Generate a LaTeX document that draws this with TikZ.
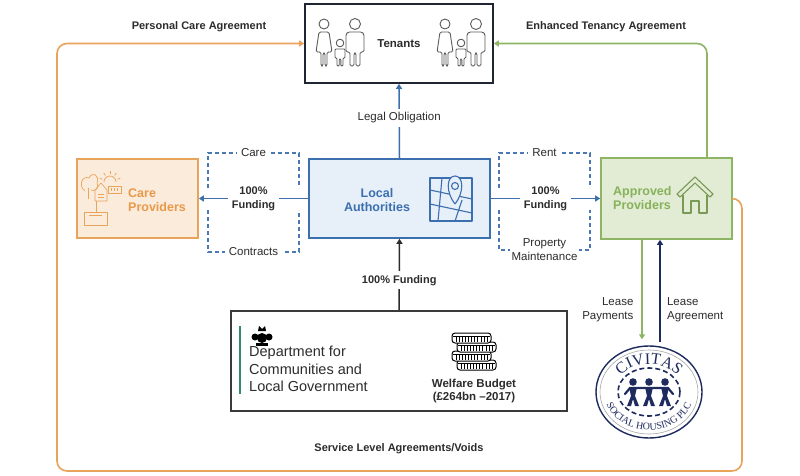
\documentclass[tikz,border=0pt]{standalone}
\usepackage{fontspec}
\setmainfont{Liberation Sans}
\newfontfamily\civfont{Liberation Serif}
\usetikzlibrary{arrows.meta,decorations.text,shapes.geometric}

\definecolor{txt}{HTML}{2C2C2C}
\definecolor{tenborder}{HTML}{1F2533}
\definecolor{icongray}{HTML}{5A5A5A}
\definecolor{lablue}{HTML}{3B6FAE}
\definecolor{lafill}{HTML}{E7EFF9}
\definecolor{dashblue}{HTML}{4A79B3}
\definecolor{careline}{HTML}{E9A45C}
\definecolor{carefill}{HTML}{FBEBDB}
\definecolor{caretext}{HTML}{E8994A}
\definecolor{appgreen}{HTML}{8DB564}
\definecolor{appfill}{HTML}{E2EBD4}
\definecolor{apptext}{HTML}{86B25A}
\definecolor{civnavy}{HTML}{1E2B5E}
\definecolor{dclgdark}{HTML}{3A3A3A}
\definecolor{dclggreen}{HTML}{2F8A6C}

\tikzset{
  tip/.style={-{Triangle[length=5pt,width=6pt]}},
  box/.style={draw, line width=1.6pt, inner sep=0pt},
  lbl/.style={font=\fontsize{11.5}{14}\selectfont, text=txt, align=center},
  blbl/.style={font=\bfseries\fontsize{11}{14}\selectfont, text=txt, align=center},
  gap/.style={fill=white, inner sep=4pt},
  brk/.style={draw=dashblue, line width=1.2pt, dash pattern=on 4pt off 3pt},
  blueline/.style={draw=lablue, line width=1.5pt},
  icon/.style={draw=icongray, line width=0.9pt, line join=round},
  family/.pic={
    % woman, child, man
    \draw[icon] (11,6) circle (5);
    \draw[icon, rounded corners=1.5] (8,48) -- (8,34) -- (3,34) -- (6,14) -- (16,14) -- (19,34) -- (14,34) -- (14,48) -- (12,48) -- (12,35) -- (10,35) -- (10,48) -- cycle;
    \draw[icon] (27,25) circle (3.8);
    \draw[icon, rounded corners=1] (24,48) -- (24,40) -- (22,40) -- (22,31) -- (32,31) -- (32,40) -- (30,40) -- (30,48) -- (27.8,48) -- (27.8,41) -- (26.2,41) -- (26.2,48) -- cycle;
    \draw[icon] (42,6) circle (5.5);
    \draw[icon, rounded corners=1.5] (37,48) -- (37,34) -- (33,34) -- (33,16) -- (35,14) -- (49,14) -- (51,16) -- (51,34) -- (47,34) -- (47,48) -- (43,48) -- (43,35) -- (41,35) -- (41,48) -- cycle;
  }
}

\begin{document}
\begin{tikzpicture}[x=1pt, y=-1pt]
\fill[white] (0,0) rectangle (800,476);
\useasboundingbox (0,0) rectangle (800,476);

% boxes
\node[box, draw=tenborder, minimum width=188pt, minimum height=79pt,
      font=\bfseries\fontsize{11.5}{14}\selectfont, text=txt] (ten) at (399,43.5) {Tenants};
\pic at (313,18) {family};
\pic at (434,18) {family};

\node[box, draw=careline, fill=carefill, minimum width=121pt, minimum height=79pt] (care) at (137.5,198.5) {};
\node[box, draw=lablue, fill=lafill, minimum width=181pt, minimum height=79pt] (la) at (399.5,198.5) {};
\node[box, draw=appgreen, fill=appfill, minimum width=131pt, minimum height=81pt] (app) at (666.5,198.5) {};
\node[box, draw=dclgdark, minimum width=336pt, minimum height=100pt] (dclg) at (399,361) {};

\node[font=\bfseries\fontsize{12.5}{14}\selectfont, text=caretext, align=left, anchor=west, inner sep=0pt] (caretxt) at (128,200) {Care\\Providers};
\node[font=\bfseries\fontsize{12.5}{14}\selectfont, text=lablue, align=center] (latxt) at (377,200) {Local\\Authorities};
\node[font=\bfseries\fontsize{12.5}{14}\selectfont, text=apptext, align=left, anchor=west, inner sep=0pt] (apptxt) at (613,198.5) {Approved\\Providers};

% care icon
\begin{scope}[draw=careline, line width=0.7pt, line join=round]
  \draw (88,199) -- (88,188);
  \draw (85,191) .. controls (78,186) and (82,175) .. (89,178) .. controls (92,171) and (100,175) .. (97,183) .. controls (100,188) and (95,192) .. (91,190);
  \draw (95,201) -- (95,190) -- (101,183) -- (107,190) -- (107,201) -- cycle;
  \draw (98,194) -- (104,194) (98,197) -- (104,197);
  \draw (104,182) arc (180:360:6);
  \foreach \a in {-20,-55,-90,-125,-160} \draw[shift={(110,182)}] (\a:8) -- (\a:11);
  \draw (108,186) rectangle (121,193);
  \draw (111,188) -- (111,191) (114,188) -- (114,191) (117,188) -- (117,191);
  \draw (96,201) -- (96,212);
  \draw (84,212) rectangle (107,225);
  \draw (89,215) -- (102,215);
\end{scope}

% map icon
\begin{scope}[draw=lablue, line width=1.1pt, line join=round]
  \draw (430,178) rectangle (472,221);
  \draw (430,190) -- (472,199);
  \draw (430,204) -- (472,213);
  \draw (442,178) -- (438,221);
  \draw (462,200) -- (455,221);
  \draw[fill=lafill] (455,204) .. controls (446,193) and (446,176) .. (455,176) .. controls (464,176) and (464,193) .. (455,204);
  \draw (455,186) circle (3.5);
\end{scope}

% house icon
\begin{scope}[draw=appgreen!85!black, line width=1.1pt, line join=round]
  \draw (677,194) -- (695,177) -- (713,194) -- (710,197) -- (695,183) -- (680,197) -- cycle;
  \draw (683,195) -- (683,213) -- (691,213) -- (691,201) -- (699,201) -- (699,213) -- (707,213) -- (707,195);
\end{scope}

% dclg contents
\draw[dclggreen, line width=1.8pt] (240,326) -- (240,394);
\fill[black] (258,331) -- (259,326) -- (262,329) -- (265,326) -- (266,331) -- cycle;
\fill[black] (262,338) circle (5);
\fill[black] (255,337) circle (3.5);
\fill[black] (269,337) circle (3.5);
\fill[black] (256,343) rectangle (268,346);
\node[font=\fontsize{14.5}{17.5}\selectfont, text=txt, align=left, anchor=north west, inner sep=0pt] (dclgtxt) at (249,346) {Department for\\Communities and\\Local Government};

\foreach \xx/\yy in {457/360,452/351,457/342,452/333} {
  \draw[black, line width=1pt, fill=white, rounded corners=3] (\xx,\yy) rectangle ++(39,10);
  \draw[black, line width=0.7pt] (\xx+1,\yy+3.5) -- ++(37,0);
  \foreach \k in {0,...,10} \draw[black, line width=0.6pt] (\xx+4+3.1*\k,\yy+4) -- ++(0,5);
}
\node[font=\bfseries\fontsize{11.5}{13}\selectfont, text=txt, align=center] (wb) at (474,391) {Welfare Budget\\(£264bn –2017)};

% civitas logo
\node[draw=civnavy, line width=1.4pt, ellipse, minimum width=106pt, minimum height=92pt, fill=white] (civ) at (649,392) {};
\begin{scope}[shift={(civ.center)}, y=1pt]
  \draw[gray!70, line width=0.6pt] (0,0) ellipse (49 and 42);
  \draw[civnavy, line width=1.6pt, dash pattern=on 5pt off 3pt] (0,0) ellipse (31 and 24);
  \path[decorate, decoration={text along path, text align=center,
        text={|\civfont\fontsize{16}{16}\selectfont\color{civnavy}|CIVITAS}}]
        (158:35 and 28) arc[start angle=158, end angle=22, x radius=35, y radius=28];
  \path[decorate, decoration={text along path, text align=center,
        text={|\civfont\fontsize{10}{10}\selectfont\color{civnavy}|SOCIAL HOUSING PLC}}]
        (180:45 and 38) arc[start angle=180, end angle=360, x radius=45, y radius=38];
  \foreach \p in {-16,0,16} {
    \fill[civnavy] (\p,10) circle (3.8);
    \fill[civnavy] (\p-4,5) -- (\p+4,5) -- (\p+2,-4) -- (\p+6,-14) -- (\p+2,-14) -- (\p,-7) -- (\p-2,-14) -- (\p-6,-14) -- (\p-2,-4) -- cycle;
  }
  \draw[civnavy, line width=2.2pt, line cap=round] (-24,-2) -- (-19,4) -- (19,4) -- (24,-2);
\end{scope}

% connectors
\coordinate (sw) at (57,471);
\coordinate (se) at (742,471);
\draw[draw=careline, line width=1.6pt, rounded corners=10pt, tip] (app.east) -| (se) -- (sw) |- (ten.west);
\draw[draw=appgreen, line width=1.6pt, rounded corners=10pt, tip] ([xshift=40.5pt]app.north) |- (ten.east);
\node[blbl] (pca) at (199,27) {Personal Care Agreement};
\node[blbl] (eta) at (606,27) {Enhanced Tenancy Agreement};
\node[blbl] (sla) at (399,449) {Service Level Agreements/Voids};

\draw[blueline, tip] (la.north) -- node[gap, lbl, pos=0.54] {Legal Obligation} (ten.south);
\draw[blueline, tip] (la.west) -- node[gap, blbl] {100\%\\Funding} (care.east);
\draw[blueline, tip] (la.east) -- node[gap, blbl] {100\%\\Funding} (app.west);
\draw[draw=txt, line width=1.5pt, tip] (dclg.north) -- node[gap, blbl, pos=0.42] {100\% Funding} (la.south);

\draw[brk] (208,188) |- node[gap, lbl, pos=0.75] {Care} (299,153) -- (299,188);
\draw[brk] (208,210) |- node[gap, lbl, pos=0.75] {Contracts} (299,252) -- (299,210);
\draw[brk] (499,188) |- node[gap, lbl, pos=0.75] {Rent} (590,153) -- (590,188);
\draw[brk] (499,210) |- node[gap, lbl, pos=0.75, inner sep=2pt] {Property\\Maintenance} (590,250) -- (590,210);

\draw[draw=appgreen, line width=1.5pt, tip] ([xshift=-24.5pt]app.south) -- node[lbl, pos=0.7, anchor=east, align=right, xshift=-4.5pt] {Lease\\Payments} ([xshift=-7pt,yshift=6pt]civ.north);
\draw[draw=civnavy, line width=1.5pt, tip] ([xshift=11pt,yshift=3pt]civ.north) -- node[lbl, pos=0.32, anchor=west, align=left, xshift=3pt] {Lease\\Agreement} ([xshift=-6.5pt]app.south);
\end{tikzpicture}
\end{document}
